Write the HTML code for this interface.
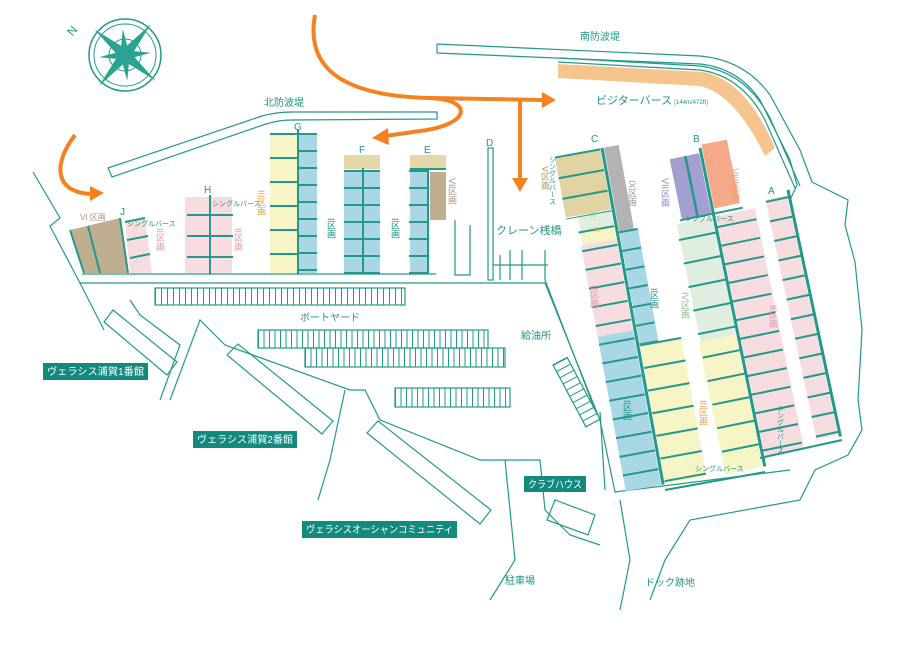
<!DOCTYPE html>
<html><head><meta charset="utf-8"><style>
html,body{margin:0;padding:0;background:#fff;}
svg{display:block;font-family:"Liberation Sans","Noto Sans CJK JP",sans-serif;}
.t{fill:#1f9585;}
</style></head><body>
<svg width="900" height="650" viewBox="0 0 900 650" xmlns="http://www.w3.org/2000/svg">
<g fill="none" stroke="#23998b" stroke-width="1.2">
<path d="M108,168 L262,116 Q276,112 292,112 L437,112 L437,119 L292,120 Q279,120 266,124 L112,177 Z"/>
<path d="M437,44 L700,56 Q745,60 770,95 L800,150 L812,182 M437,44 L437,53 L700,64 Q738,68 760,100 L790,160 L797,185"/>
<path d="M558,62 L700,70 Q742,76 765,120 L795,188 M560,58 L700,66 Q746,72 770,118 L800,186"/>
<path d="M812,182 L848,200 L845,225 L855,262 L862,330 L858,400 L862,430 L848,455 L815,470 L800,500 L690,520 L665,560 L650,600"/>
<path d="M797,185 L790,200"/>
<path d="M33,172 L60,218 L50,226 L80,283 L436,283 M80,283 L104,330 M436,283 L545,283 L600,420 L615,492 L790,470"/>
<path d="M82,274 L436,274 M545,280 L595,410 M600,412 L605,490"/>
<path d="M130,300 L140,315 L180,345 L160,400 M170,400 L200,320 L225,345 L350,390 L365,390 L380,420 L480,460 L505,460 L515,560 L490,600"/>
<path d="M345,390 L330,460 L318,500 M505,460 L540,460 L545,510 L570,535 L600,545"/>
<path d="M620,500 L630,560 L620,610"/>
<path d="M104,322 L113,310 L177,362 L167,375 Z"/>
<path d="M227,355 L238,344 L333,421 L322,434 Z"/>
<path d="M367,433 L378,421 L491,510 L480,524 Z"/>
<path d="M547,520 L555,500 L595,515 L588,535 Z"/>
<g transform="translate(553,365) rotate(-28)"><rect x="0" y="0" width="16" height="70"/><line x1="8" y1="0" x2="8" y2="70" stroke-width="16" stroke-dasharray="1 6" /></g>
<rect x="155" y="288" width="250" height="17"/>
<line x1="155" y1="296.5" x2="405" y2="296.5" stroke-width="17" stroke-dasharray="1 5"/>
<rect x="258" y="330" width="230" height="18"/>
<line x1="258" y1="339" x2="488" y2="339" stroke-width="18" stroke-dasharray="1 4.5"/>
<rect x="305" y="348" width="200" height="19"/>
<line x1="305" y1="357.5" x2="505" y2="357.5" stroke-width="19" stroke-dasharray="1 4.5"/>
<rect x="395" y="388" width="115" height="19"/>
<line x1="395" y1="397.5" x2="510" y2="397.5" stroke-width="19" stroke-dasharray="1 4.5"/>
<rect x="488" y="148" width="5" height="132"/>
<path d="M455,220 L455,275 L470,275 L470,225 M500,255 L500,280 M510,250 L510,280 M522,250 L522,280 M545,250 L545,280 M493,265 L548,265"/>
</g>

<polygon points="70,230 120,218 128,273 84,273" fill="#bfae90"/>
<polygon points="125,222 145,218 152,273 130,273" fill="#f8dde0"/>
<g stroke="#23998b" stroke-width="2" fill="none">
<path d="M70,230 L84,273 M88,226 L100,273 M120,218 L128,273 M125,222 L145,218 M127,240 L148,236 M130,258 L150,254"/>
</g>
<rect x="185" y="197" width="47" height="76" fill="#f8dde0"/>
<rect x="270" y="133" width="28" height="140" fill="#f7f4c5"/>
<rect x="299" y="133" width="18" height="140" fill="#a9d7e6"/>
<rect x="344" y="155" width="36" height="14" fill="#e5d7a8"/>
<rect x="344" y="170" width="36" height="103" fill="#a9d7e6"/>
<rect x="410" y="155" width="36" height="14" fill="#e5d7a8"/>
<rect x="410" y="170" width="17" height="103" fill="#a9d7e6"/>
<rect x="430" y="172" width="16" height="48" fill="#bfae90"/>
<g stroke="#23998b" fill="none">
<line x1="210" y1="195" x2="210" y2="274" stroke-width="2"/>
<line x1="210" y1="214" x2="210" y2="274" stroke-width="46" stroke-dasharray="2 19"/>
<line x1="298" y1="130" x2="298" y2="274" stroke-width="2"/>
<line x1="284" y1="133" x2="284" y2="274" stroke-width="28" stroke-dasharray="2 22"/>
<line x1="308" y1="133" x2="308" y2="274" stroke-width="18" stroke-dasharray="2 15"/>
<line x1="363" y1="168" x2="363" y2="274" stroke-width="2"/>
<line x1="362" y1="170" x2="362" y2="274" stroke-width="36" stroke-dasharray="2 15"/>
<line x1="428" y1="168" x2="428" y2="274" stroke-width="2"/>
<line x1="418" y1="170" x2="418" y2="274" stroke-width="18" stroke-dasharray="2 15"/>
<line x1="410" y1="169" x2="446" y2="169" stroke-width="2"/>
</g>

<path d="M558,64 L703,72 Q746,80 775,148 L765,156 Q735,94 700,86 L558,78 Z" fill="#f6c58e"/>

<g transform="translate(602,148) rotate(-10.3)">
<rect x="-48" y="0" width="46" height="62" fill="#e2d3a3"/>
<rect x="-36" y="62" width="34" height="16" fill="#e0eedf"/>
<rect x="-36" y="78" width="34" height="14" fill="#f7f4c5"/>
<rect x="-38" y="92" width="36" height="93" fill="#f8dde0"/>
<rect x="-38" y="185" width="36" height="157" fill="#a9d7e6"/>
<rect x="2" y="0" width="15" height="85" fill="#b3b3b3"/>
<rect x="2" y="85" width="19" height="115" fill="#a9d7e6"/>
<rect x="2" y="200" width="42" height="142" fill="#f7f4c5"/>
<g stroke="#23998b" fill="none">
<line x1="0" y1="0" x2="0" y2="342" stroke-width="3"/>
<line x1="-25" y1="0" x2="-25" y2="64" stroke-width="46" stroke-dasharray="2 19"/>
<line x1="-20" y1="78" x2="-20" y2="342" stroke-width="36" stroke-dasharray="2 17"/>
<line x1="11" y1="85" x2="11" y2="200" stroke-width="19" stroke-dasharray="2 17"/>
<line x1="23" y1="200" x2="23" y2="342" stroke-width="42" stroke-dasharray="2 21"/>
</g></g>

<g transform="translate(700,148) rotate(-11.5)">
<rect x="-32" y="5" width="30" height="62" fill="#a39fd0"/>
<rect x="2" y="-3" width="26" height="65" fill="#f5a989"/>
<rect x="-38" y="70" width="36" height="120" fill="#e0eedf"/>
<rect x="-40" y="190" width="38" height="135" fill="#f7f4c5"/>
<rect x="2" y="70" width="40" height="245" fill="#f8dde0"/>
<g stroke="#23998b" fill="none">
<line x1="0" y1="0" x2="0" y2="325" stroke-width="3"/>
<line x1="-16" y1="5" x2="-16" y2="67" stroke-width="2.5"/>
<line x1="-34" y1="67" x2="30" y2="67" stroke-width="2"/>
<line x1="-20" y1="85" x2="-20" y2="325" stroke-width="38" stroke-dasharray="2 22"/>
<line x1="21" y1="80" x2="21" y2="315" stroke-width="40" stroke-dasharray="2 17"/>
</g></g>

<g transform="translate(788,190) rotate(-12)">
<rect x="-24" y="5" width="22" height="245" fill="#f8dde0"/>
<g stroke="#23998b" fill="none">
<line x1="0" y1="0" x2="0" y2="252" stroke-width="3"/>
<line x1="-12" y1="6" x2="-12" y2="250" stroke-width="24" stroke-dasharray="2 18"/>
</g></g>
<path d="M842,440 L760,458 M665,490 L765,472" stroke="#23998b" stroke-width="2" fill="none"/>

<g transform="translate(125,55)" stroke="#23998b" fill="none">
<circle r="36" stroke-width="1.5"/><circle r="31" stroke-width="1"/><circle r="16" stroke-width="1"/>
<g fill="#2ba393" stroke="none">
<polygon points="0,-40 5,-5 0,0 -5,-5" transform="rotate(-50)"/>
<polygon points="0,-40 5,-5 0,0 -5,-5" transform="rotate(40)"/>
<polygon points="0,-40 5,-5 0,0 -5,-5" transform="rotate(130)"/>
<polygon points="0,-40 5,-5 0,0 -5,-5" transform="rotate(220)"/>
<polygon points="0,-26 4,-4 0,0 -4,-4" transform="rotate(-5)"/>
<polygon points="0,-26 4,-4 0,0 -4,-4" transform="rotate(85)"/>
<polygon points="0,-26 4,-4 0,0 -4,-4" transform="rotate(175)"/>
<polygon points="0,-26 4,-4 0,0 -4,-4" transform="rotate(265)"/>
</g></g>
<text x="68" y="35" class="t" font-size="12" transform="rotate(-50 72 31)">N</text>

<g stroke="#f58220" stroke-width="4" fill="none">
<path d="M315,15 C305,70 345,96 430,98 L542,100"/>
<path d="M430,98 C475,100 470,125 420,131 L385,136"/>
<path d="M520,100 L520,180"/>
<path d="M75,135 C52,165 55,193 92,194"/>
</g>
<g fill="#f58220">
<polygon points="542,92 556,100 542,108"/>
<polygon points="388,128 372,138 389,145"/>
<polygon points="512,178 520,192 528,178"/>
<polygon points="90,186 104,193 90,201"/>
</g>

<g class="t" font-size="10">
<text x="264" y="106">北防波堤</text>
<text x="580" y="40">南防波堤</text>
<text x="596" y="104" font-size="11">ビジターバース</text><text x="674" y="104" font-size="6">(144m/472ft)</text>
<text x="496" y="234" font-size="11">クレーン桟橋</text>
<text x="300" y="321">ボートヤード</text>
<text x="521" y="339">給油所</text>
<text x="505" y="584">駐車場</text>
<text x="645" y="586">ドック跡地</text>
<g font-size="10">
<text x="120" y="215">J</text><text x="204" y="193">H</text><text x="294" y="130">G</text><text x="359" y="153">F</text><text x="424" y="153">E</text><text x="486" y="146">D</text><text x="591" y="142">C</text><text x="693" y="142">B</text><text x="768" y="194">A</text>
</g>
<g font-size="7">
<text x="127" y="226">シングルバース</text>
<text x="212" y="206">シングルバース</text>
<text x="685" y="221">シングルバース</text>
<text x="695" y="471">シングルバース</text>
</g>
<text x="80" y="220" font-size="8" fill="#a8957a">VI 区画</text>
</g>
<g font-size="9" writing-mode="tb" class="t">
<text x="160" y="228" fill="#e09aa5">II区画</text>
<text x="238" y="228" fill="#e09aa5">II区画</text>
<text x="261" y="190" fill="#e8a23a">III区画</text>
<text x="331" y="218">I区画</text>
<text x="395" y="218">I区画</text>
<text x="452" y="178" fill="#a8957a">VI区画</text>
<text x="552" y="156" font-size="7">シングルバース</text>
<text x="545" y="166" fill="#b49a50">V区画</text>
<text x="632" y="180" fill="#999">IX区画</text>
<text x="594" y="285" fill="#e09aa5">II区画</text>
<text x="654" y="288">I区画</text>
<text x="627" y="400">I区画</text>
<text x="703" y="400" fill="#e8a23a">III区画</text>
<text x="685" y="292" fill="#8bbf8f">IV区画</text>
<text x="665" y="178" fill="#8f8ac4">VII区画</text>
<text x="735" y="168" fill="#ee9a7a">VIII区画</text>
<text x="773" y="305" fill="#e09aa5">II区画</text>
<text x="780" y="405" font-size="7">シングルバース</text>
</g>
<text x="590" y="217" font-size="7" fill="#8bbf8f">IV</text>
<text x="594" y="232" font-size="7" fill="#e8a23a">III</text>

<g font-size="10" fill="#fff">
<rect x="43" y="363" width="105" height="17" fill="#138a7e"/><text x="47" y="375" textLength="97" lengthAdjust="spacingAndGlyphs">ヴェラシス浦賀1番館</text>
<rect x="193" y="431" width="104" height="17" fill="#138a7e"/><text x="197" y="443" textLength="96" lengthAdjust="spacingAndGlyphs">ヴェラシス浦賀2番館</text>
<rect x="302" y="521" width="155" height="17" fill="#138a7e"/><text x="306" y="533" textLength="147" lengthAdjust="spacingAndGlyphs">ヴェラシスオーシャンコミュニティ</text>
<rect x="524" y="476" width="62" height="16" fill="#138a7e"/><text x="528" y="488" textLength="54" lengthAdjust="spacingAndGlyphs">クラブハウス</text>
</g>
</svg>
</body></html>
